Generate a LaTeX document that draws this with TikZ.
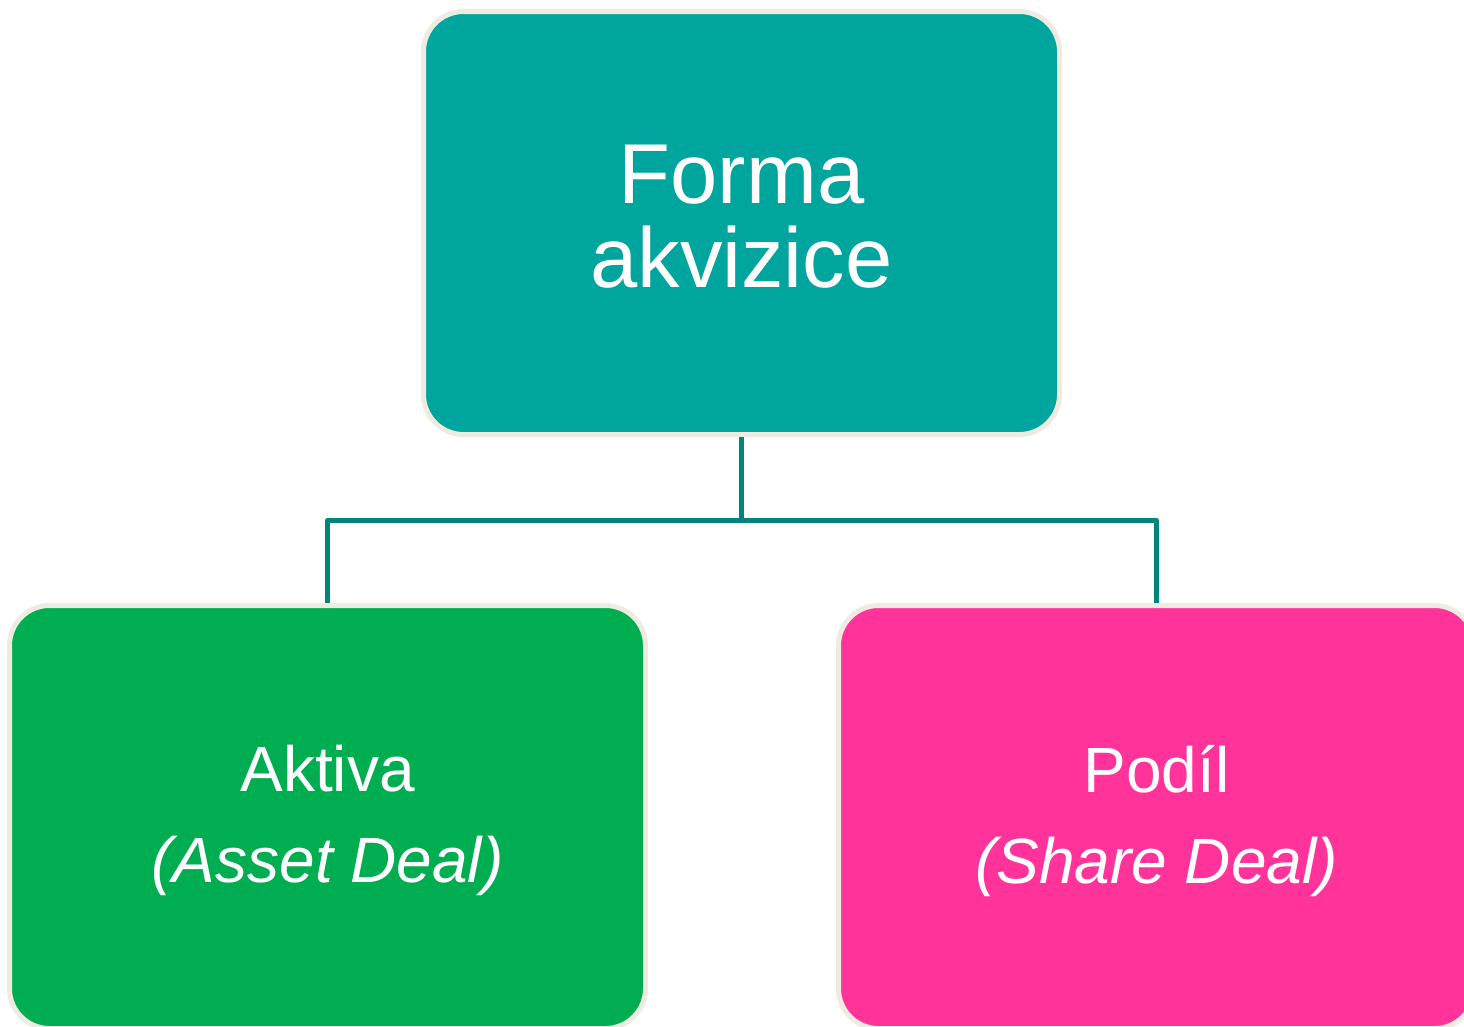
\documentclass[tikz,border=0pt]{standalone}
\usepackage{fontspec}
\setmainfont{Liberation Sans}
\usepackage{tikz}
\usetikzlibrary{positioning}
\definecolor{tealbox}{RGB}{0,165,158}
\definecolor{greenbox}{RGB}{0,173,80}
\definecolor{pinkbox}{RGB}{255,51,153}
\definecolor{rimcol}{RGB}{238,236,225}
\definecolor{linkcol}{RGB}{0,133,125}
\tikzset{box/.style={rectangle, rounded corners=40pt, draw=rimcol, line width=5pt,
    minimum width=636pt, minimum height=423pt, text=white, align=center}}
\tikzset{link/.style={draw=linkcol, line width=5pt, line join=round}}

\begin{document}
\begin{tikzpicture}[x=1pt, y=-1pt]
    \useasboundingbox(0, 0) rectangle (1464, 1026);
    \node[box, fill=tealbox, text depth=13pt, font=\fontsize{85}{84}\selectfont](top) at (741.5, 223){Forma\\akvizice};
    \node[box, fill=greenbox, text depth=5.5pt, font=\fontsize{64}{91}\selectfont](aktiva) at (327.5, 817){Aktiva\\\textit{(Asset Deal)}};
    \node[box, fill=pinkbox, text depth=5.5pt, font=\fontsize{64}{91}\selectfont](podil) at (1156.5, 817){Podíl\\\textit{(Share Deal)}};
    \draw[link](top.south)--++(0, 83.5)coordinate(split)-|(aktiva.north);
    \draw[link](split)-|(podil.north);
\end{tikzpicture}
\end{document}
